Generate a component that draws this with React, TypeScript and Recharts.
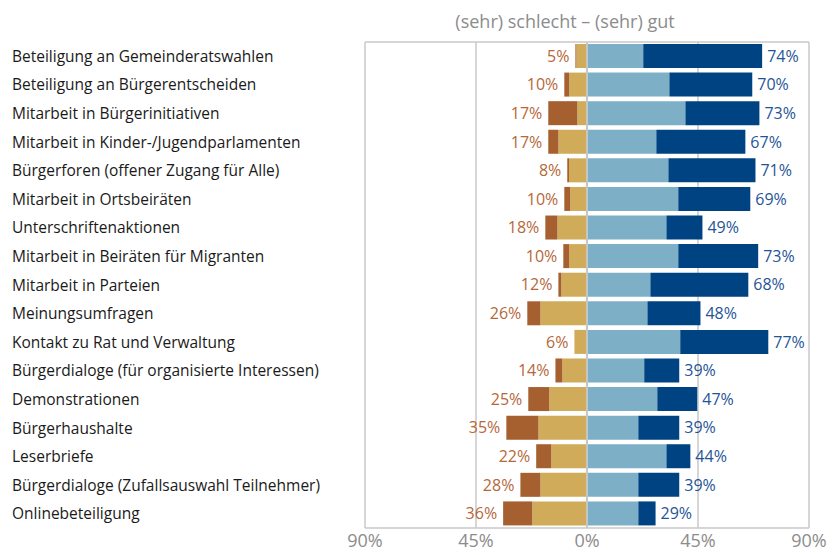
import React from "react";
import {
  BarChart,
  Bar,
  XAxis,
  YAxis,
  CartesianGrid,
  ReferenceLine,
  LabelList,
} from "recharts";

const categories = [
  "Beteiligung an Gemeinderatswahlen",
  "Beteiligung an Bürgerentscheiden",
  "Mitarbeit in Bürgerinitiativen",
  "Mitarbeit in Kinder-/Jugendparlamenten",
  "Bürgerforen (offener Zugang für Alle)",
  "Mitarbeit in Ortsbeiräten",
  "Unterschriftenaktionen",
  "Mitarbeit in Beiräten für Migranten",
  "Mitarbeit in Parteien",
  "Meinungsumfragen",
  "Kontakt zu Rat und Verwaltung",
  "Bürgerdialoge (für organisierte Interessen)",
  "Demonstrationen",
  "Bürgerhaushalte",
  "Leserbriefe",
  "Bürgerdialoge (Zufallsauswahl Teilnehmer)",
  "Onlinebeteiligung",
];

const sehrSchlecht = [0.4, 2.0, 11.8, 4.1, 0.7, 2.4, 4.9, 2.4, 1.2, 5.3, 0, 2.8, 8.5, 13.0, 6.1, 8.1, 11.8];
const schlecht = [4.3, 7.2, 3.9, 11.6, 7.3, 6.8, 12.0, 7.2, 10.4, 18.9, 5.1, 10.0, 15.3, 19.7, 14.5, 18.9, 22.2];
const gut = [22.8, 33.4, 39.9, 28.1, 33.0, 37.0, 32.2, 37.0, 25.7, 24.5, 37.8, 23.2, 28.5, 20.8, 32.2, 20.8, 20.8];
const sehrGut = [48.2, 33.6, 30.0, 36.1, 35.3, 29.2, 14.6, 32.4, 39.7, 21.5, 35.7, 14.2, 16.2, 16.6, 9.7, 16.6, 7.0];

const negLabels = [5, 10, 17, 17, 8, 10, 18, 10, 12, 26, 6, 14, 25, 35, 22, 28, 36];
const posLabels = [74, 70, 73, 67, 71, 69, 49, 73, 68, 48, 77, 39, 47, 39, 44, 39, 29];

const xTicks = [-90, -45, 0, 45, 90];

const data = categories.map((name, i) => ({
  name,
  schlecht: -schlecht[i],
  sehrSchlecht: -sehrSchlecht[i],
  gut: gut[i],
  sehrGut: sehrGut[i],
  negTotal: -(schlecht[i] + sehrSchlecht[i]),
  posTotal: gut[i] + sehrGut[i],
  negLabel: negLabels[i] + "%",
  posLabel: posLabels[i] + "%",
}));

const FONT = "'Open Sans', 'Noto Sans', sans-serif";

const CategoryTick = (props: any) => {
  const { y, payload } = props;
  return (
    <text x={12} y={y} dy="0.36em" textAnchor="start" fill="#1a1a1a" fontSize={15.5} fontFamily={FONT}>
      {payload.value}
    </text>
  );
};

const makeLabel = (side: "neg" | "pos") => (props: any) => {
  const vb = props.viewBox || props;
  const x = Number(vb.x);
  const w = Number(vb.width);
  const y = Number(vb.y);
  const h = Number(vb.height);
  const left = Math.min(x, x + w);
  const right = Math.max(x, x + w);
  const cy = y + h / 2;
  if (side === "neg") {
    return (
      <text x={left - 6} y={cy} dy="0.36em" textAnchor="end" fill="#B5683A" fontSize={16} fontFamily={FONT}>
        {props.value}
      </text>
    );
  }
  return (
    <text x={right + 5} y={cy} dy="0.36em" textAnchor="start" fill="#1F5596" fontSize={16} fontFamily={FONT}>
      {props.value}
    </text>
  );
};

export default function App() {
  return (
    <div style={{ position: "absolute", left: 0, top: 0, width: 833, height: 555, background: "#fff" }}>
      <div
        style={{
          position: "absolute",
          left: 365,
          width: 400,
          top: 9,
          textAlign: "center",
          fontFamily: FONT,
          fontSize: 18,
          color: "#8c8c8c",
          whiteSpace: "nowrap",
        }}
      >
        (sehr) schlecht – (sehr) gut
      </div>
      <BarChart
        width={833}
        height={555}
        data={data}
        layout="vertical"
        stackOffset="sign"
        barSize={24}
        margin={{ top: 41, right: 24, bottom: 0, left: 0 }}
      >
        <CartesianGrid horizontal={false} stroke="#c9c9c9" strokeWidth={1.5} />
        <XAxis
          type="number"
          domain={[-90, 90]}
          ticks={xTicks}
          interval={0}
          tickFormatter={(v: number) => Math.abs(v) + "%"}
          axisLine={{ stroke: "#c9c9c9", strokeWidth: 1.5 }}
          tickLine={false}
          tickSize={4}
          tickMargin={2}
          height={27}
          tick={{ fill: "#8c8c8c", fontSize: 18, fontFamily: FONT }}
          allowDataOverflow
        />
        <XAxis
          xAxisId="top"
          orientation="top"
          type="number"
          domain={[-90, 90]}
          ticks={xTicks}
          height={1}
          tick={false}
          tickLine={false}
          axisLine={{ stroke: "#c9c9c9", strokeWidth: 1.5 }}
        />
        <YAxis
          type="category"
          dataKey="name"
          width={365}
          axisLine={false}
          tickLine={false}
          interval={0}
          tick={<CategoryTick />}
        />
        <YAxis yAxisId="lab" type="category" dataKey="name" hide />
        <Bar dataKey="schlecht" stackId="s" fill="#CFAB5A" isAnimationActive={false} />
        <Bar dataKey="sehrSchlecht" stackId="s" fill="#A65F2F" isAnimationActive={false} />
        <Bar dataKey="gut" stackId="s" fill="#7DAFC6" isAnimationActive={false} />
        <Bar dataKey="sehrGut" stackId="s" fill="#004382" isAnimationActive={false} />
        <Bar yAxisId="lab" dataKey="negTotal" stackId="lab" fill="none" isAnimationActive={false}>
          <LabelList dataKey="negLabel" content={makeLabel("neg")} />
        </Bar>
        <Bar yAxisId="lab" dataKey="posTotal" stackId="lab" fill="none" isAnimationActive={false}>
          <LabelList dataKey="posLabel" content={makeLabel("pos")} />
        </Bar>
        <ReferenceLine x={0} stroke="#c6c6c6" strokeWidth={2} />
      </BarChart>
    </div>
  );
}
